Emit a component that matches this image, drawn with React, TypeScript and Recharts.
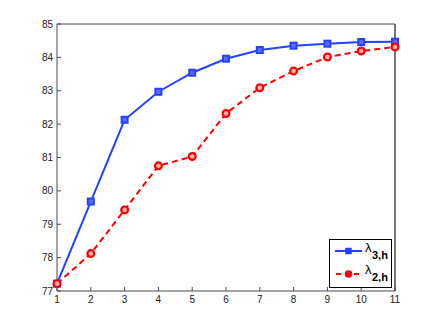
import { LineChart, Line, XAxis, YAxis, Legend } from "recharts";

const steps = [1, 2, 3, 4, 5, 6, 7, 8, 9, 10, 11];
const lambda3h = [77.22, 79.68, 82.13, 82.97, 83.54, 83.96, 84.22, 84.35, 84.41, 84.46, 84.47];
const lambda2h = [77.22, 78.12, 79.43, 80.75, 81.03, 82.32, 83.09, 83.59, 84.01, 84.19, 84.31];
const yTicks = [77, 78, 79, 80, 81, 82, 83, 84, 85];

const BLUE = "#2442ff";
const RED = "#ff0000";
const AXIS = "#4a4a4a";
const FONT = "'Liberation Sans', Arial, sans-serif";

const data = steps.map((s, i) => ({ step: s, l3: lambda3h[i], l2: lambda2h[i] }));

function Square(props: any) {
  const { cx, cy } = props;
  if (cx == null || cy == null) return null;
  return <rect x={cx - 3} y={cy - 3} width={6} height={6} fill="#5a6cff" stroke={BLUE} strokeWidth={2} />;
}

function Circle(props: any) {
  const { cx, cy } = props;
  if (cx == null || cy == null) return null;
  return <circle cx={cx} cy={cy} r={3.4} fill="#ffb0b0" stroke={RED} strokeWidth={2.2} />;
}

function LegendBox() {
  return (
    <svg width={63} height={49} style={{ display: "block" }}>
      <rect x={0.5} y={0.5} width={62} height={48} fill="#fff" stroke="#000" strokeWidth={1} />
      <line x1={6} x2={33} y1={12} y2={12} stroke={BLUE} strokeWidth={2} />
      <rect x={17} y={9.5} width={5} height={5} fill={BLUE} stroke={BLUE} strokeWidth={1.5} />
      <text x={36} y={13} fontFamily={FONT} fontSize={13} fill="#000">λ</text>
      <text x={43} y={20} fontFamily={FONT} fontSize={11} fontWeight="bold" fill="#000">3,h</text>
      <line x1={6} x2={33} y1={35} y2={35} stroke={RED} strokeWidth={2} strokeDasharray="5 4" strokeDashoffset={-1} />
      <circle cx={19.5} cy={35} r={3} fill={RED} stroke={RED} strokeWidth={1.5} />
      <text x={36} y={35} fontFamily={FONT} fontSize={13} fill="#000">λ</text>
      <text x={43} y={42} fontFamily={FONT} fontSize={11} fontWeight="bold" fill="#000">2,h</text>
    </svg>
  );
}

export default function App() {
  const tickStyle = { fontSize: 10, fill: "#222", fontFamily: FONT };
  return (
    <div style={{ position: "absolute", left: 0, top: 0, width: 436, height: 328, background: "#fff" }}>
      <LineChart width={436} height={328} data={data} margin={{ top: 23, right: 40, bottom: 7, left: 0 }}>
        <XAxis
          dataKey="step" type="number" domain={[1, 11]} ticks={steps} interval={0}
          height={30} tickSize={-4} tickMargin={9} tick={tickStyle}
          axisLine={{ stroke: AXIS }} tickLine={{ stroke: AXIS }}
        />
        <XAxis
          xAxisId="top" orientation="top" dataKey="step" type="number" domain={[1, 11]} ticks={steps}
          interval={0} height={1} tickSize={-4} tick={false}
          axisLine={{ stroke: AXIS }} tickLine={{ stroke: AXIS }}
        />
        <YAxis
          type="number" domain={[77, 85]} ticks={yTicks} interval={0} width={57}
          tickSize={-4} tickMargin={8} tick={tickStyle}
          axisLine={{ stroke: AXIS }} tickLine={{ stroke: AXIS }}
        />
        <YAxis
          yAxisId="right" orientation="right" type="number" domain={[77, 85]} ticks={yTicks}
          interval={0} width={1} tickSize={-4} tick={false}
          axisLine={{ stroke: AXIS, strokeWidth: 1.5 }} tickLine={{ stroke: AXIS }}
        />
        <Line
          dataKey="l3" stroke={BLUE} strokeWidth={2} dot={<Square />} activeDot={false}
          isAnimationActive={false}
        />
        <Line
          dataKey="l2" stroke={RED} strokeWidth={2} strokeDasharray="6 4" dot={<Circle />}
          activeDot={false} isAnimationActive={false}
        />
        <Legend
          layout="horizontal" verticalAlign="middle" align="center"
          wrapperStyle={{ position: "absolute", left: 329, top: 239, width: 63, height: 49 }}
          content={() => <LegendBox />}
        />
      </LineChart>
    </div>
  );
}
